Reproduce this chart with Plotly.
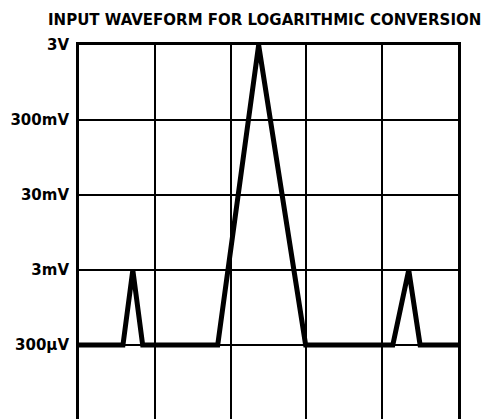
import plotly.graph_objects as go
import math

# Waveform (x in screen divisions, y in volts)
wave_x = [0.0, 0.58, 0.71, 0.84, 1.83, 2.37, 2.99, 4.14, 4.35, 4.50, 5.0]
wave_y = [3e-4, 3e-4, 3e-3, 3e-4, 3e-4, 3.0, 3e-4, 3e-4, 3e-3, 3e-4, 3e-4]

tick_vals = [3e-4, 3e-3, 3e-2, 3e-1, 3.0]
tick_text = ["300µV", "3mV", "30mV", "300mV", "3V"]
x_grid = [0, 1, 2, 3, 4, 5]

title_text = "INPUT WAVEFORM FOR LOGARITHMIC CONVERSION"

fig = go.Figure()
fig.add_trace(go.Scatter(x=wave_x, y=wave_y, mode="lines",
                         line=dict(color="black", width=5), hoverinfo="skip"))

fig.update_layout(
    width=489, height=419,
    margin=dict(l=79, r=31, t=45, b=0, autoexpand=False),
    paper_bgcolor="white", plot_bgcolor="white",
    showlegend=False,
    xaxis=dict(range=[0, 5], tickvals=x_grid, showticklabels=False,
               showgrid=True, gridcolor="black", gridwidth=2, automargin=False,
               zeroline=False, side="top", showline=True, linecolor="black",
               linewidth=3, mirror=False, ticks=""),
    yaxis=dict(type="log", range=[math.log10(3e-4) - 0.987, math.log10(3.0)],
               tickvals=tick_vals, ticktext=tick_text, automargin=False,
               showgrid=True, gridcolor="black", gridwidth=2,
               showline=True, linecolor="black", linewidth=3, mirror=True,
               zeroline=False, ticks="", ticklabelstandoff=4,
               tickfont=dict(family="DejaVu Sans", size=15, color="black", weight="bold")),
    annotations=[dict(text="<b>" + title_text + "</b>", xref="paper", yref="paper",
                      x=0.0, y=1.0, yshift=25, xshift=-33, showarrow=False,
                      xanchor="left", yanchor="middle",
                      font=dict(family="DejaVu Sans", size=15, color="black"))],
)

fig.write_html("out.html", config={"displayModeBar": False},
               post_script="document.body.style.margin='0';document.body.style.overflow='hidden';")
